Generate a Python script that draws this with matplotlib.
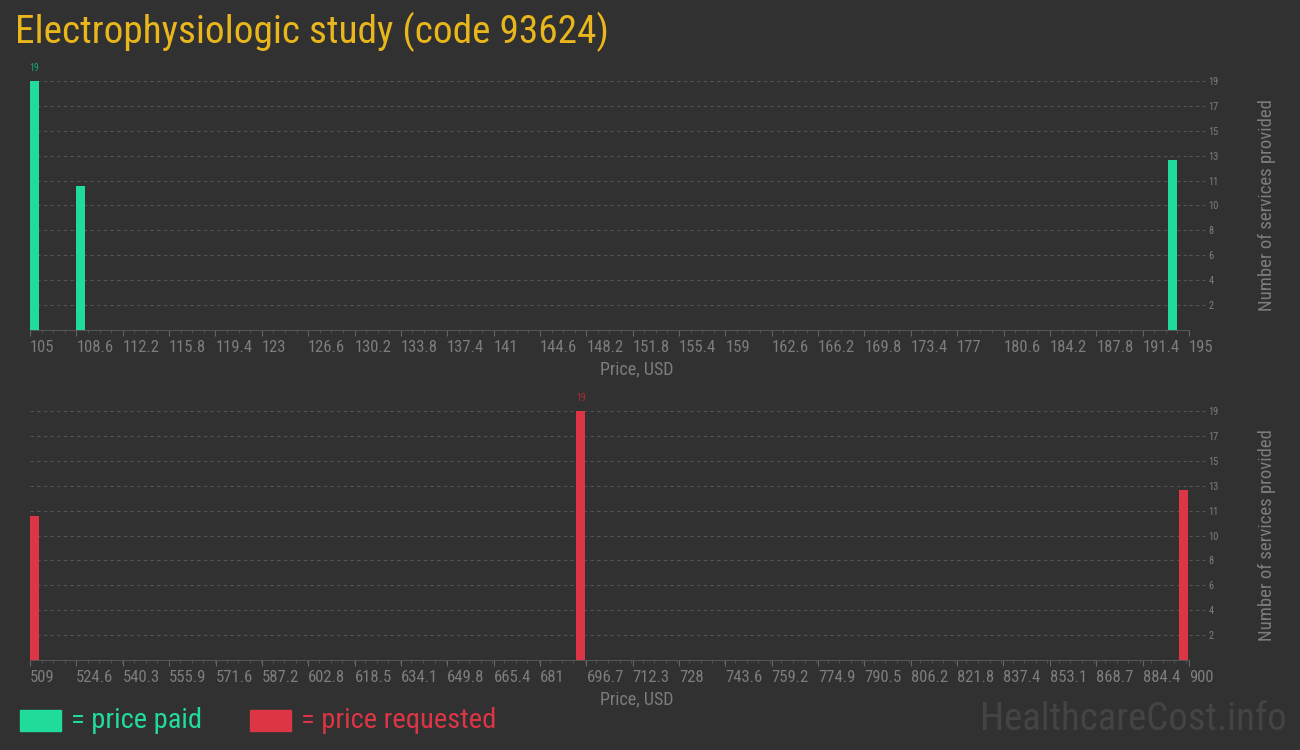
import matplotlib
matplotlib.use("Agg")
import matplotlib.pyplot as plt
import matplotlib.transforms as mtransforms
from matplotlib.patches import Rectangle
from matplotlib.ticker import FixedLocator, AutoMinorLocator
from matplotlib import font_manager

# pick a condensed face, the reference uses one
names = {f.name for f in font_manager.fontManager.ttflist}
if "Roboto Condensed" in names:
    plt.rcParams['font.family'] = ['Roboto Condensed', 'DejaVu Sans']
else:
    plt.rcParams['font.family'] = ['Roboto', 'DejaVu Sans']
    plt.rcParams['font.stretch'] = 'condensed'

title = "Electrophysiologic study (code 93624)"

# price paid (top)
paid_prices = [105, 108.6, 193.4]
paid_counts = [19, 11, 13]
paid_ticks = [105, 108.6, 112.2, 115.8, 119.4, 123, 126.6, 130.2, 133.8, 137.4, 141,
              144.6, 148.2, 151.8, 155.4, 159, 162.6, 166.2, 169.8, 173.4, 177,
              180.6, 184.2, 187.8, 191.4, 195]

# price requested (bottom)
req_prices = [509, 693.3, 896.6]
req_counts = [11, 19, 13]
req_ticks = [509, 524.6, 540.3, 555.9, 571.6, 587.2, 602.8, 618.5, 634.1, 649.8, 665.4,
             681, 696.7, 712.3, 728, 743.6, 759.2, 774.9, 790.5, 806.2, 821.8, 837.4,
             853.1, 868.7, 884.4, 900]

y_ticks = [1.9, 3.8, 5.7, 7.6, 9.5, 11.4, 13.3, 15.2, 17.1, 19]
y_labels = ["2", "4", "6", "8", "10", "11", "13", "15", "17", "19"]

BG = "#313131"
GREEN = "#21db9a"
RED = "#dc3545"
GOLD = "#e9b61c"
GREY = "#7d7d7d"
GRID = "#555555"

fig = plt.figure(figsize=(13, 7.5), dpi=100, facecolor=BG)
shift = mtransforms.ScaledTranslation(-4 / 100, 0, fig.dpi_scale_trans)


def draw_panel(rect, prices, counts, ticks, color, label_color):
    ax = fig.add_axes(rect)
    ax.set_facecolor(BG)
    span = ticks[-1] - ticks[0]
    width = span * 0.0078
    ax.bar(prices, counts, width=width, align='edge', color=color, zorder=3)
    top = max(counts)
    for p, c in zip(prices, counts):
        if c == top:
            ax.text(p + width / 2, c + 0.6, str(c), color=label_color, fontsize=7,
                    ha='center', va='bottom')
    ax.set_xlim(ticks[0], ticks[-1])
    ax.set_ylim(0, 19)
    # grid runs a little past the end of the x axis
    ax.hlines(y_ticks, ticks[-1], ticks[-1] + span * 0.014, colors=GRID,
              linestyles=(0, (3, 3)), linewidth=0.8, clip_on=False)
    ax.xaxis.set_major_locator(FixedLocator(ticks))
    ax.set_xticklabels([f"{t:g}" for t in ticks])
    ax.xaxis.set_minor_locator(AutoMinorLocator(4))
    for lab in ax.get_xticklabels():
        lab.set_horizontalalignment('left')
        lab.set_transform(lab.get_transform() + shift)
    ax.tick_params(axis='x', which='major', colors="#666666", labelcolor=GREY,
                   labelsize=12, length=4, pad=3)
    ax.tick_params(axis='x', which='minor', colors=GRID, length=2)
    ax.yaxis.tick_right()
    ax.set_yticks(y_ticks)
    ax.set_yticklabels(y_labels)
    ax.tick_params(axis='y', length=0, labelcolor=GREY, labelsize=7.5, pad=14)
    ax.yaxis.set_label_position('right')
    ax.set_ylabel("Number of services provided", color=GREY, fontsize=13.5, labelpad=28)
    ax.grid(axis='y', color=GRID, linestyle=(0, (3, 3)), linewidth=0.8, zorder=0)
    for s in ['top', 'right', 'left']:
        ax.spines[s].set_visible(False)
    ax.spines['bottom'].set_color(GRID)
    ax.set_xlabel("Price, USD", color=GREY, fontsize=13)
    ax.xaxis.set_label_coords(0.5237, -0.12)
    return ax


draw_panel([30 / 1300, 420 / 750, 1159 / 1300, 249 / 750],
           paid_prices, paid_counts, paid_ticks, GREEN, "#1aa877")
draw_panel([30 / 1300, 90 / 750, 1159 / 1300, 249 / 750],
           req_prices, req_counts, req_ticks, RED, "#b02a37")

# title
fig.text(15 / 1300, 1 - 32 / 750, title, color=GOLD, fontsize=28.3, ha='left', va='center')

# legend
fig.patches.append(Rectangle((20 / 1300, 1 - 731 / 750), 41 / 1300, 21 / 750,
                             transform=fig.transFigure, color=GREEN))
fig.text(71 / 1300, 1 - 720 / 750, "= price paid", color=GREEN, fontsize=20.5,
         ha='left', va='center')
fig.patches.append(Rectangle((250 / 1300, 1 - 731 / 750), 41 / 1300, 21 / 750,
                             transform=fig.transFigure, color=RED))
fig.text(301 / 1300, 1 - 720 / 750, "= price requested", color=RED, fontsize=20.5,
         ha='left', va='center')

# watermark
fig.text(1287 / 1300, 1 - 720 / 750, "HealthcareCost.info", color="#444444",
         fontsize=28, ha='right', va='center')

fig.savefig("out.png", dpi=100, facecolor=BG)
